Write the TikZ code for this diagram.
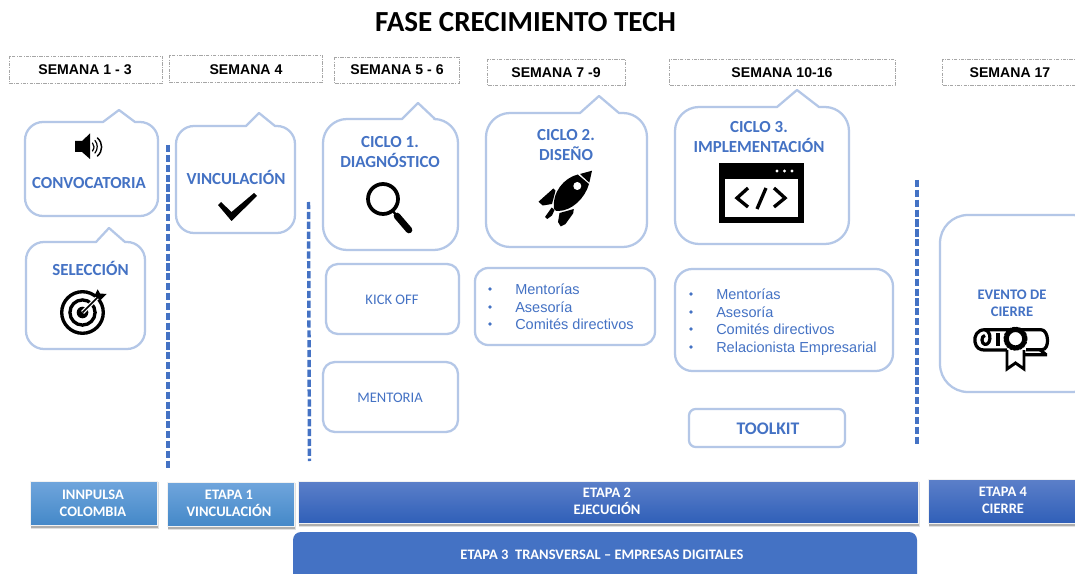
\documentclass[tikz,border=0pt]{standalone}
\usepackage{fontspec}
\setmainfont{Carlito}
\newfontfamily\arialf{Liberation Sans}
\usetikzlibrary{calc}
\definecolor{cblue}{HTML}{4472C4}
\definecolor{cline}{HTML}{B4C7E7}
\definecolor{cgray}{HTML}{A6A6A6}
\definecolor{dashblue}{HTML}{4472C4}
\definecolor{lbA}{HTML}{6FA5DC}
\definecolor{lbB}{HTML}{4488C8}
\definecolor{dbA}{HTML}{5B7FC9}
\definecolor{dbB}{HTML}{2F5FB8}
\newcommand\fpx[2]{\fontsize{\fpeval{#1*3/4}}{\fpeval{#2*3/4}}\selectfont}
\newcommand\callshape[9]{%
 \draw[calloutline,fill=white] (#8,#9) -- (#7,#2) -- ({#3-#5},#2)
  .. controls ({#3-.45*#5},#2) and (#3,{#2+.45*#5}) .. (#3,{#2+#5})
  -- (#3,{#4-#5})
  .. controls (#3,{#4-.45*#5}) and ({#3-.45*#5},#4) .. ({#3-#5},#4)
  -- ({#1+#5},#4)
  .. controls ({#1+.45*#5},#4) and (#1,{#4-.45*#5}) .. (#1,{#4-#5})
  -- (#1,{#2+#5})
  .. controls (#1,{#2+.45*#5}) and ({#1+.45*#5},#2) .. ({#1+#5},#2)
  -- (#6,#2) -- cycle;}
\newcommand\stagebar[7]{% name x1 y1 x2 y2 colA colB
 \fill[black,opacity=.12] ({#2+1},{#3+1}) rectangle ({#4+2},{#5+4});
 \fill[black,opacity=.22] ({#2+1},{#3+1}) rectangle ({#4+1},{#5+2.5});
 \node[inner sep=0,draw=white!90!gray,line width=.9pt,top color=#6,bottom color=#7,minimum width={(#4-#2)*.75pt},minimum height={(#5-#3)*.75pt},anchor=north west] (#1) at (#2,#3) {};}
\tikzset{
 x=.75pt,y=-.75pt,
 calloutline/.style={draw=cline,line width=1.7pt,line join=round},
 softbox/.style={calloutline},
 weekbox/.style={draw=cgray,line width=.5pt,dash pattern=on 2.5pt off 1pt on .6pt off 1pt},
 weektxt/.style={font=\arialf\bfseries\fpx{14.1}{17},text=black,inner sep=0},
 titletxt/.style={font=\bfseries\fpx{16.9}{20},text=cblue,inner sep=0,align=center},
 smalltxt/.style={font=\fpx{14.6}{17},text=cblue,inner sep=0,align=center},
 listtxt/.style={font=\arialf\fpx{14.5}{17},text=cblue,inner sep=0,anchor=base west},
 bartxt/.style={font=\bfseries\fpx{14.5}{17},text=white,inner sep=0,align=center},
 divider/.style={draw=dashblue,line width=2.3pt,dash pattern=on 5.4pt off 2pt},
 ink/.style={fill=black,draw=none},
}
\begin{document}
\begin{tikzpicture}
\clip (0,0) rectangle (1075,574);
\fill[white] (0,0) rectangle (1075,574);
% title
\node[font=\bfseries\fpx{29.1}{33},text=black,inner sep=0] (title) at (525.5,22) {FASE CRECIMIENTO TECH};
% week boxes
\draw[weekbox] (9,56) rectangle (162,83);
\draw[weekbox] (169,55) rectangle (322,82);
\draw[weekbox] (334,57) rectangle (459,83);
\draw[weekbox] (487,59) rectangle (625,85);
\draw[weekbox] (669,59) rectangle (895,85);
\draw[weekbox] (942,59) rectangle (1080,85);
\node[weektxt] (w1) at (85,70) {SEMANA 1 - 3};
\node[weektxt] (w2) at (246,70) {SEMANA 4};
\node[weektxt] (w3) at (397,70) {SEMANA 5 - 6};
\node[weektxt] (w4) at (556,73) {SEMANA 7 -9};
\node[weektxt] (w5) at (782,72.5) {SEMANA 10-16};
\node[weektxt] (w6) at (1010,72.5) {SEMANA 17};
% callouts
\callshape{25}{122}{158}{216}{18}{103}{135}{119}{110}
\callshape{26}{242}{145}{349}{18}{96}{125}{109}{228}
\callshape{176}{126}{295}{233}{18}{246}{275}{259}{113}
\callshape{323}{119}{458}{250}{24}{402}{435}{418}{103}
\callshape{486}{113}{647}{247}{24}{580}{619}{599}{96}
\callshape{675}{107}{849}{244}{24}{777}{819}{797}{90}
% plain rounded boxes
\draw[softbox,rounded corners=9pt] (326,264) rectangle (459,334);
\draw[softbox,rounded corners=9pt] (323,362) rectangle (458,432);
\draw[softbox,rounded corners=10pt] (475,268) rectangle (655,345);
\draw[softbox,rounded corners=13pt] (675,269) rectangle (893,371);
\draw[softbox,rounded corners=5pt] (689,409) rectangle (845,447);
\draw[softbox,rounded corners=21pt] (940,215) rectangle (1100,392);
% texts
\node[titletxt] (t1) at (89,183) {CONVOCATORIA};
\node[titletxt] (t2) at (236,177) {VINCULACIÓN};
\node[titletxt] (t3) at (90.5,268) {SELECCIÓN};
\node[titletxt] (t4) at (390,152.5) {CICLO 1.\\DIAGNÓSTICO};
\node[titletxt] (t5) at (566,145.5) {CICLO 2.\\DISEÑO};
\node[titletxt] (t6) at (759,137.5) {CICLO 3.\\IMPLEMENTACIÓN};
\node[smalltxt] (k) at (392,299.5) {KICK OFF};
\node[smalltxt] (m) at (390,397.5) {MENTORIA};
\node[font=\bfseries\fpx{17.7}{19},text=cblue,inner sep=0] (tk) at (768,428.5) {TOOLKIT};
\node[font=\bfseries\fpx{14.6}{17},text=cblue,inner sep=0,align=center] (ev) at (1012,303.5) {EVENTO DE\\CIERRE};
% lists
\foreach \n/\y/\s in {a/294/Mentorías,b/312/Asesoría,c/329/Comités directivos}{
 \node[listtxt] (l\n) at (515,\y) {\s};
 \fill[cblue] (490,\y-5) circle (1.9);
}
\foreach \n/\y/\s in {d/299/Mentorías,e/317/Asesoría,f/334/Comités directivos,g/352/Relacionista Empresarial}{
 \node[listtxt] (l\n) at (716,\y) {\s};
 \fill[cblue] (691,\y-5) circle (1.9);
}
% dividers
\coordinate (d1a) at (168,145); \coordinate (d1b) at (168,468);
\coordinate (d2a) at (308.5,202); \coordinate (d2b) at (309.5,461);
\coordinate (d3a) at (917,180); \coordinate (d3b) at (917,444);
\draw[divider] (d1a) -- (d1b);
\draw[divider,line width=2.6pt] (d2a) -- (d2b);
\draw[divider] (d3a) -- (d3b);
% speaker
\fill[ink] (75,141) -- (82,141) -- (90,133.5) -- (90,159) -- (82,152) -- (75,152) -- cycle;
\begin{scope}[draw=black,line cap=round]
\draw[line width=.9pt] (92.5,143) .. controls (94.5,145.5) and (94.5,148) .. (92.5,151);
\draw[line width=.9pt] (95,140.5) .. controls (98,144) and (98,149) .. (95,153);
\draw[line width=1.1pt] (97.5,138) .. controls (103,143) and (103,151) .. (97.5,156);
\end{scope}
% check
\fill[ink] (218,205) -- (221,202) -- (231.5,212) -- (254,193) -- (257,196) -- (231.5,221) -- cycle;
% target
\draw[line width=2.5pt] (82.5,312.5) circle (20.8);
\draw[line width=2.5pt] (82.5,312.5) circle (12.6);
\fill[ink] (82.5,312.5) circle (5.8);
\draw[line width=3pt,white] (82.5,312.5) -- (104,291);
\draw[line width=1.3pt] (82.5,312.5) -- (100,295);
\fill[ink] (97.7,289.3) -- (100,293.5) -- (106.7,294) -- (100.5,300) -- (94.3,296) -- cycle;
% magnifier
\draw[line width=2.8pt] (383,199) circle (15);
\draw[line width=1.8pt] (392,210) -- (397,216);
\draw[line width=5pt,line cap=round] (397,216) -- (409,230);
% rocket
\fill[ink] (577.7,174.5) .. controls (564,178) and (552,192) .. (554,209)
 .. controls (555,211) and (557,211) .. (558,211)
 .. controls (572,211) and (585,198) .. (589,184) -- cycle;
\fill[white] (577.3,186) circle (4);
\fill[ink] (580,174) -- (592,170.7) -- (589.3,182.7) -- cycle;
\fill[ink] (538.5,201.7) -- (553.3,188.5) -- (555.5,190.7) -- (552,204) -- (542.7,205.5) -- cycle;
\fill[ink] (545,217) -- (551.7,207.5) -- (554.5,210) -- (552,215.5) -- (547.3,219) -- cycle;
\fill[ink] (558,222) -- (559.5,213) -- (573.8,209) -- (573.2,213.3) -- (565.5,224) -- (560.7,226.5) -- cycle;
% code window
\fill[ink] (719,163) rectangle (804,223);
\fill[white] (725,179) rectangle (798,217);
\foreach \dx in {777,784.5,792}{\fill[white] (\dx,171) circle (1.6);}
\begin{scope}[line width=2.5pt,miter limit=4]
\draw (748,188) -- (737,198) -- (748,207);
\draw (766,188) -- (757,209);
\draw (774,188) -- (785,198) -- (774,207);
\end{scope}
% diploma
\begin{scope}[line width=2.4pt,line join=round]
\draw (985,329.7) -- (1041,329.7) .. controls (1049,329.7) and (1050,349.7) .. (1042,349.7) -- (1026,349.7);
\draw (985,329.7) .. controls (977,329.7) and (974,336) .. (975,342) .. controls (976,348) and (980,350) .. (984,350) -- (1007,350);
\draw (985,329.7) .. controls (990,331) and (991,338) .. (989,342) .. controls (987,346) and (982,345) .. (982,340) .. controls (982,337) and (983,336) .. (985,335.5);
\draw (998,333) -- (998,346);
\draw (1024,354.7) -- (1047,354.7) (1040,349.7) -- (1046,354.7);
\end{scope}
\draw[line width=2.2pt,fill=white,line join=miter] (1007,350) -- (1007,369) -- (1015.5,363) -- (1024,369) -- (1024,350);
\draw[line width=1.6pt,densely dotted,line cap=round] (1015.5,338.7) circle (11);
\draw[line width=3pt,fill=white] (1015.5,338.7) circle (8.7);
% bottom bars
\stagebar{b1}{30}{481}{157}{525}{lbA}{lbB}
\stagebar{b2}{167}{482}{294}{526}{lbA}{lbB}
\stagebar{b3}{298}{481}{917.5}{523}{dbA}{dbB}
\stagebar{b4}{928}{479}{1085}{523}{dbA}{dbB}
\fill[cblue,rounded corners=6pt] (293,532) rectangle (917,585);
\node[bartxt] (tb1) at (93,503.5) {INNPULSA\\COLOMBIA};
\node[bartxt] (tb2) at (229,503.5) {ETAPA 1\\VINCULACIÓN};
\node[bartxt] (tb3) at (607,501.5) {ETAPA 2\\EJECUCIÓN};
\node[bartxt] (tb4) at (1003,500.5) {ETAPA 4\\CIERRE};
\node[bartxt] (tb5) at (602,554.5) {ETAPA 3\ \ TRANSVERSAL – EMPRESAS DIGITALES};
\end{tikzpicture}
\end{document}
